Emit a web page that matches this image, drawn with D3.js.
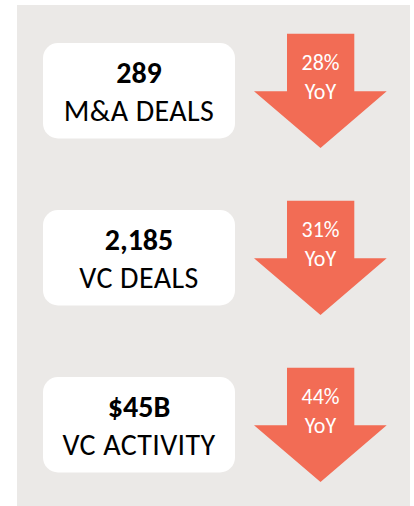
<!DOCTYPE html>
<html>
<head>
<meta charset="utf-8">
<script src="https://cdn.jsdelivr.net/npm/d3@7"></script>
<style>
  html, body { margin: 0; padding: 0; background: #fff; }
  svg { display: block; }
  text { font-family: Carlito, Calibri, Lato, sans-serif; }
</style>
</head>
<body>
<div id="chart"></div>
<script>
// figures and their year-on-year drops
var values = ["289", "2,185", "$45B"];
var labels = ["M&A DEALS", "VC DEALS", "VC ACTIVITY"];
var yoyDrop = [28, 31, 44];

var width = 414, height = 506;

var svg = d3.select("#chart").append("svg")
    .attr("width", width)
    .attr("height", height);

// grey panel
svg.append("rect")
    .attr("x", 17).attr("y", 5)
    .attr("width", 393).attr("height", 501)
    .attr("fill", "#ebe9e7");

var rows = d3.scaleBand()
    .domain(labels)
    .range([43, 43 + 167 * labels.length]);

var data = labels.map(function (d, i) {
    return { label: d, value: values[i], yoy: yoyDrop[i] };
});

var row = svg.selectAll("g.row")
    .data(data)
    .enter().append("g")
    .attr("class", "row")
    .attr("transform", function (d) { return "translate(0," + rows(d.label) + ")"; });

// white card
row.append("rect")
    .attr("x", 43).attr("y", 0)
    .attr("width", 192).attr("height", 95.5)
    .attr("rx", 15).attr("ry", 15)
    .attr("fill", "#fff");

row.append("text")
    .attr("x", 139).attr("y", 39.7)
    .attr("text-anchor", "middle")
    .attr("font-size", 30)
    .attr("font-weight", 900)
    .attr("fill", "#000")
    .text(function (d) { return d.value; });

row.append("text")
    .attr("x", 139).attr("y", 77.7)
    .attr("text-anchor", "middle")
    .attr("font-size", 30)
    .attr("letter-spacing", 0.4)
    .attr("fill", "#000")
    .text(function (d) { return d.label; });

// down arrow
var arrow = d3.line();
row.append("path")
    .attr("d", function () {
        return arrow([
            [287, -9.3], [354.3, -9.3], [354.3, 48.3], [386.7, 48.3],
            [320.5, 105], [254, 48.3], [287, 48.3]
        ]) + "Z";
    })
    .attr("fill", "#f26c55");

row.append("text")
    .attr("x", 320.5).attr("y", 27.3)
    .attr("text-anchor", "middle")
    .attr("font-size", 22)
    .attr("fill", "#fff")
    .text(function (d) { return d.yoy + "%"; });

row.append("text")
    .attr("x", 320.5).attr("y", 56)
    .attr("text-anchor", "middle")
    .attr("font-size", 22)
    .attr("fill", "#fff")
    .text("YoY");
</script>
</body>
</html>
